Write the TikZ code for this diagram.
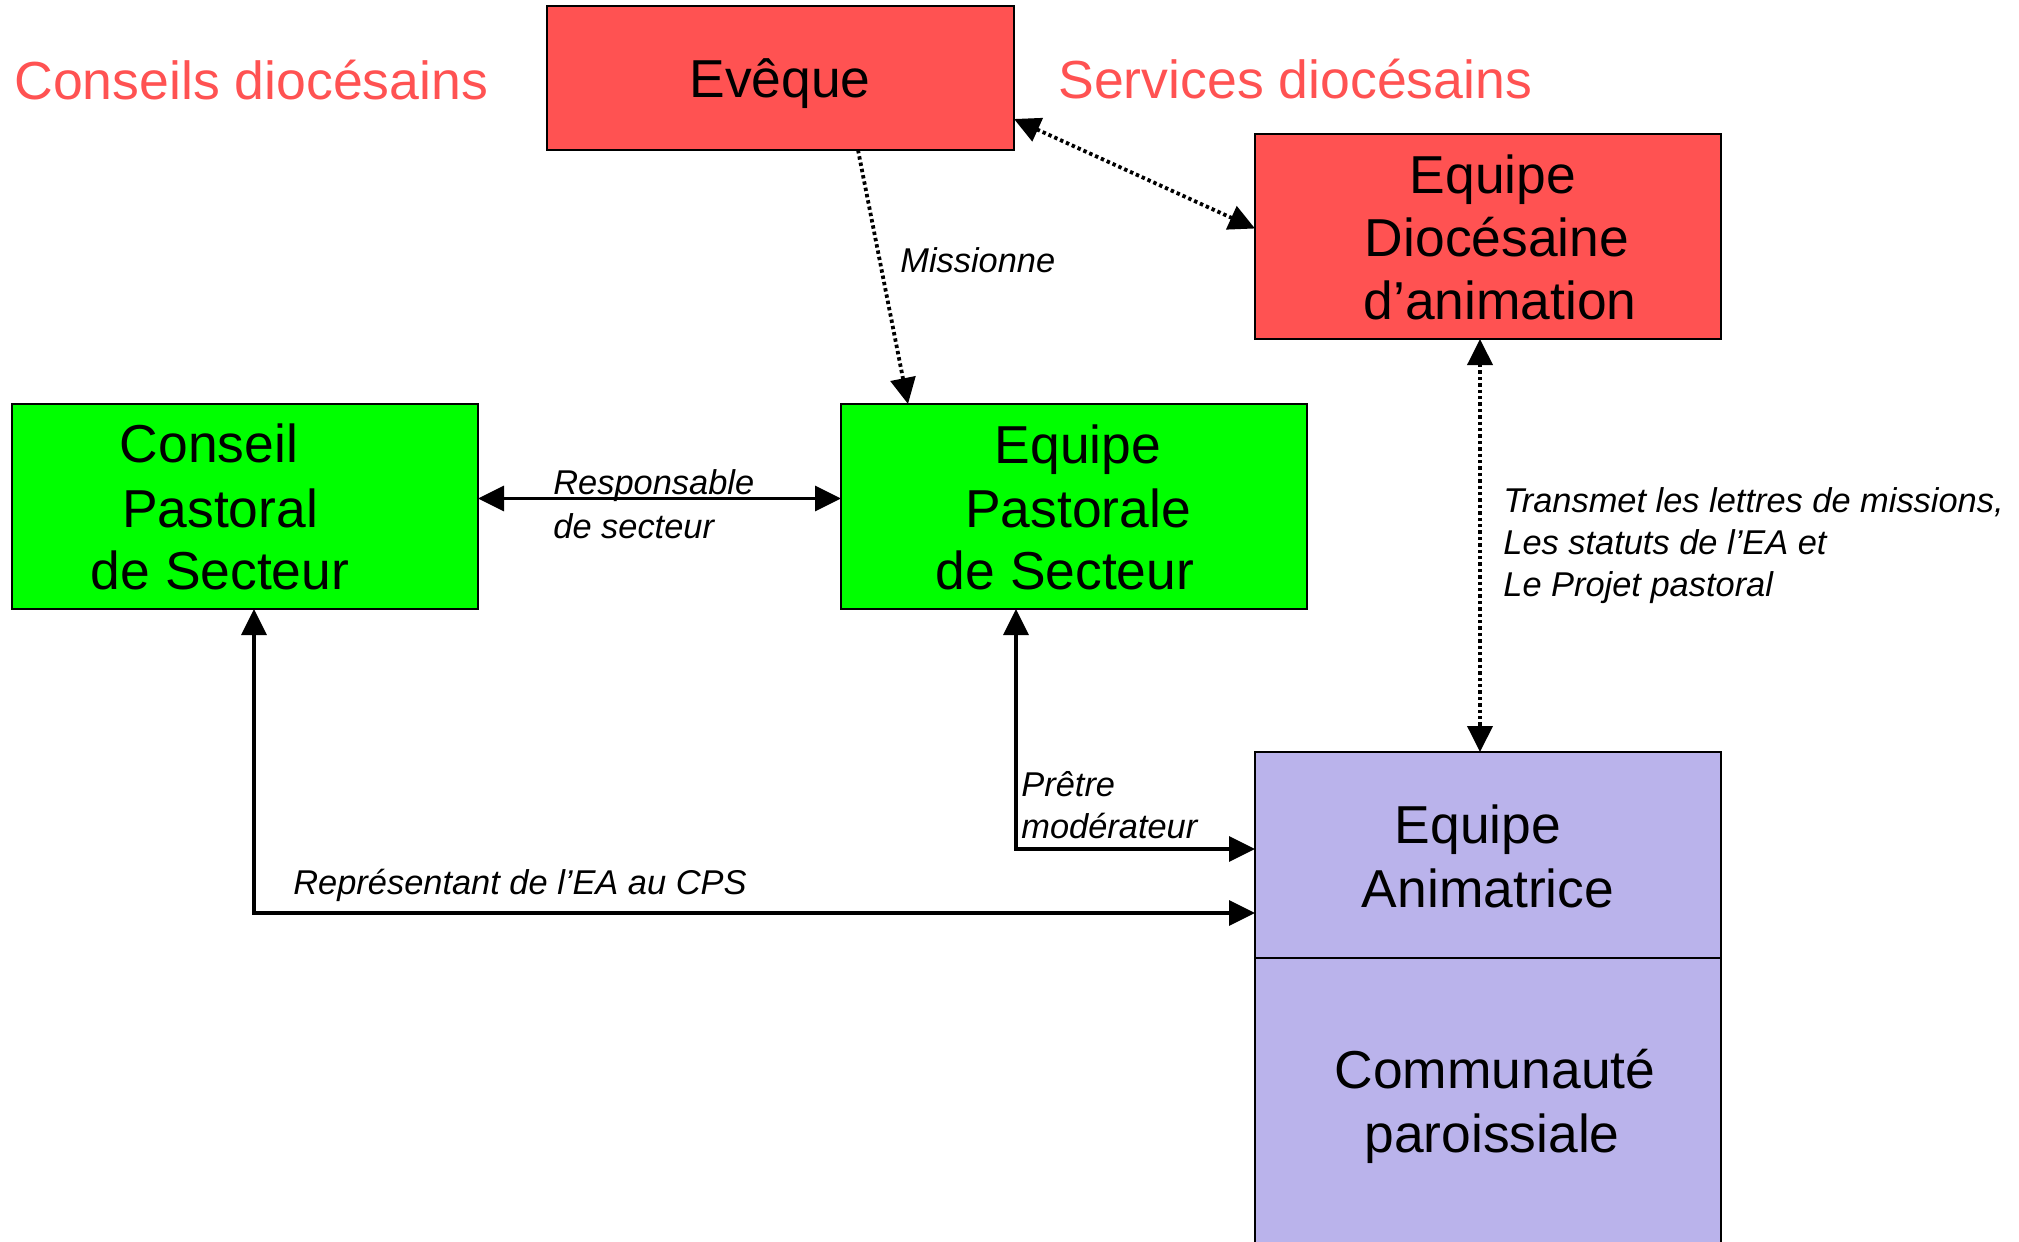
\documentclass[tikz,border=0pt]{standalone}
\usepackage{fontspec}
\setmainfont{Liberation Sans}
\usetikzlibrary{arrows.meta,calc,fit}
\definecolor{boxred}{RGB}{255,82,82}
\definecolor{boxgreen}{RGB}{0,255,0}
\definecolor{boxlav}{RGB}{186,179,235}
\begin{document}
\begin{tikzpicture}[x=0.5pt,y=-0.5pt,
  box/.style={draw=black, line width=0.8pt, inner sep=0pt, outer sep=0pt},
  redbox/.style={box, fill=boxred},
  greenbox/.style={box, fill=boxgreen},
  lavbox/.style={box, fill=boxlav},
  big/.style={font=\fontsize{26.7}{31.75}\selectfont, anchor=base, inner sep=0pt},
  titletxt/.style={font=\fontsize{26.8}{31.75}\selectfont, text=boxred, anchor=base west, inner sep=0pt},
  lbl/.style={font=\fontsize{17.2}{20}\selectfont\itshape, anchor=base west, inner sep=0pt},
  tip/.style={-{Triangle[length=13pt,width=12.5pt]}},
  both/.style={{Triangle[length=13pt,width=12.5pt]}-{Triangle[length=13pt,width=12.5pt]}},
  solidc/.style={line width=1.7pt},
  dotc/.style={line width=1.9pt, dash pattern=on 1.7pt off 1.5pt},
]
\useasboundingbox (0,0) rectangle (2019,1242);

% boxes
\node[redbox, fit={(547,6) (1014,150)}] (eveque) {};
\node[redbox, fit={(1255,134) (1721,339)}] (eda) {};
\node[greenbox, fit={(12,404) (478,609)}] (cps) {};
\node[greenbox, fit={(841,404) (1307,609)}] (eps) {};
\node[lavbox, fit={(1255,752) (1721,958)}] (ea) {};
\node[lavbox, fit={(1255,958) (1721,1252)}] (cp) {};

% titles
\node[titletxt] (tconseils) at (14,99) {Conseils diocésains};
\node[titletxt] (tservices) at (1058,98) {Services diocésains};

% box texts
\node[big] (teveque) at (780,97) {Evêque};
\node[big] (teda1) at (1493,193) {Equipe};
\node[big] (teda2) at (1497,256) {Diocésaine};
\node[big] (teda3) at (1500,319) {d’animation};
\node[big] (tcps1) at (209,462) {Conseil};
\node[big] (tcps2) at (220,527) {Pastoral};
\node[big] (tcps3) at (220,589) {de Secteur};
\node[big] (teps1) at (1078,463) {Equipe};
\node[big] (teps2) at (1078,527) {Pastorale};
\node[big] (teps3) at (1065,589) {de Secteur};
\node[big] (tea1) at (1478,843) {Equipe};
\node[big] (tea2) at (1488,907) {Animatrice};
\node[big] (tcp1) at (1495,1088) {Communauté};
\node[big] (tcp2) at (1492,1152) {paroissiale};

% connectors
\draw[dotc, tip] ($(eveque.south)+(77.5,0)$) -- ($(eps.north)+(-166,0)$);
\draw[dotc, both] ($(eveque.east)+(0,41)$) -- ($(eda.west)+(0,-8)$);
\draw[solidc, both] ($(cps.east)+(0,-8)$) -- ($(eps.west)+(0,-8)$);
\draw[dotc, both] ($(eda.south)+(-8,0)$) -- ($(ea.north)+(-8,0)$);
\draw[solidc, both] ($(eps.south)+(-58,0)$) |- ($(ea.west)+(0,-6)$);
\draw[solidc, both] ($(cps.south)+(9,0)$) |- ($(ea.west)+(0,58)$);

% labels
\node[lbl] (lmiss) at (900,272) {Missionne};
\node[lbl] (lresp1) at (553,494) {Responsable};
\node[lbl] (lresp2) at (553,538) {de secteur};
\node[lbl] (ltr1) at (1503,512) {Transmet les lettres de missions,};
\node[lbl] (ltr2) at (1503,554) {Les statuts de l’EA et};
\node[lbl] (ltr3) at (1503,596) {Le Projet pastoral};
\node[lbl] (lpre1) at (1021,796) {Prêtre};
\node[lbl] (lpre2) at (1021,838) {modérateur};
\node[lbl] (lrep) at (293,894) {Représentant de l’EA au CPS};
\end{tikzpicture}
\end{document}
